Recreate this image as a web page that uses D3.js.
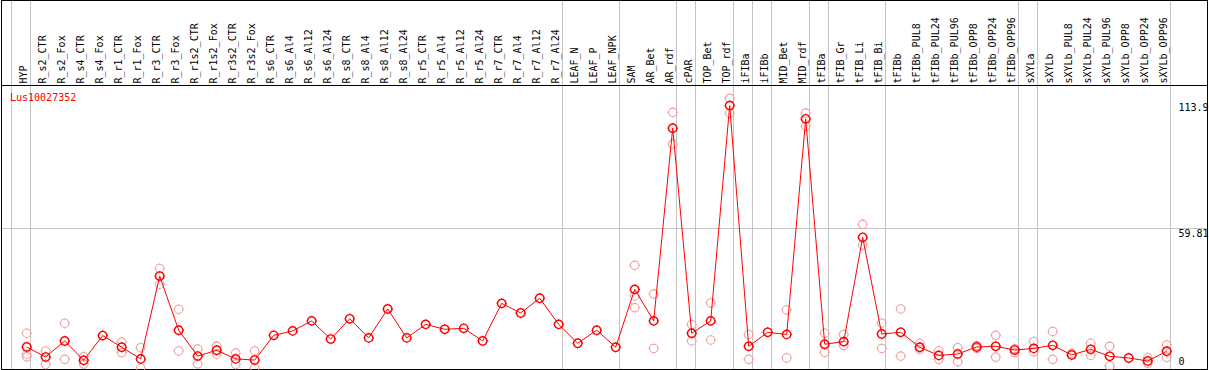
<!DOCTYPE html>
<html>
<head>
<meta charset="utf-8">
<script src="https://cdn.jsdelivr.net/npm/d3@7"></script>
<style>
  body { margin: 0; background: #fff; }
  text { font-family: "DejaVu Sans Mono", monospace; font-size: 10px; }
</style>
</head>
<body>
<div id="chart"></div>
<script>
var geneName = "Lus10027352";

var samples = ["HYP", "R_s2_CTR", "R_s2_Fox", "R_s4_CTR", "R_s4_Fox", "R_r1_CTR", "R_r1_Fox",
    "R_r3_CTR", "R_r3_Fox", "R_r1s2_CTR", "R_r1s2_Fox", "R_r3s2_CTR", "R_r3s2_Fox",
    "R_s6_CTR", "R_s6_Al4", "R_s6_Al12", "R_s6_Al24", "R_s8_CTR", "R_s8_Al4", "R_s8_Al12", "R_s8_Al24",
    "R_r5_CTR", "R_r5_Al4", "R_r5_Al12", "R_r5_Al24", "R_r7_CTR", "R_r7_Al4", "R_r7_Al12", "R_r7_Al24",
    "LEAF_N", "LEAF_P", "LEAF_NPK", "SAM", "AR_Bet", "AR_rdf", "cPAR", "TOP_Bet", "TOP_rdf",
    "iFIBa", "iFIBb", "MID_Bet", "MID_rdf", "tFIBa", "tFIB_Gr", "tFIB_Li", "tFIB_Bi", "tFIBb",
    "tFIBb_PUL8", "tFIBb_PUL24", "tFIBb_PUL96", "tFIBb_OPP8", "tFIBb_OPP24", "tFIBb_OPP96",
    "sXYLa", "sXYLb", "sXYLb_PUL8", "sXYLb_PUL24", "sXYLb_PUL96", "sXYLb_OPP8", "sXYLb_OPP24", "sXYLb_OPP96"];

// mean expression per sample
var means = [9.0, 4.7, 11.6, 3.3, 13.9, 8.9, 3.9, 39.4, 16.2, 5.1, 7.6, 3.9, 3.4,
    14.0, 15.9, 20.2, 12.4, 21.1, 12.9, 25.3, 12.9, 18.7, 16.6, 17.0, 11.6, 27.7, 23.6, 29.9, 18.7,
    10.6, 16.2, 8.9, 33.7, 20.2, 102.8, 14.9, 20.2, 112.5, 9.3, 15.3, 14.4, 106.8, 10.2, 11.3, 56.0, 14.6,
    15.3, 8.9, 5.4, 6.0, 9.0, 9.3, 7.7, 8.4, 9.7, 5.6, 8.0, 5.0, 4.3, 3.0, 7.2];

// individual replicates (where visible)
var replicates = [[14.9, 5.9, 4.8], [7.3, 1.6], [19.2, 3.7], [4.8, 1.7], [], [11.1, 6.6], [8.7, 0],
    [42.7, 35.9], [25.2, 7.3], [8.1, 1.8], [9.4, 5.9], [6.4, 1.6], [7.3, 0],
    [], [], [], [], [], [], [], [], [], [], [], [], [], [], [], [],
    [], [], [], [44.0, 30.9, 25.9], [31.7, 8.4], [109.6, 96.0], [18.7, 11.6], [27.9, 12.0], [115.6, 109.2],
    [14.4, 3.7], [], [24.9, 4.3], [109.3, 103.6], [14.9, 6.7], [14.4, 9.6], [61.6, 52.7], [19.2, 8.4],
    [25.3, 5.1], [10.6, 8.0], [7.4, 3.7], [8.7, 2.7], [9.6, 8.4], [14.0, 4.7], [8.3, 6.6],
    [11.4, 6.9], [15.7, 3.7], [6.3], [10.6, 5.4], [9.3, 0.9], [], [4.4, 2.0], [9.9, 4.6]];

// group separators: drawn after these sample indexes
var separators = [-1, 0, 28, 31, 34, 35, 37, 38, 39, 41, 42, 45, 52, 53, 60];

var yTicks = [0, 59.81, 113.9];
var yGrid = [59.81];

var width = 1209, height = 370;

var svg = d3.select("#chart").append("svg")
    .attr("width", width)
    .attr("height", height);

var x = d3.scaleLinear()
    .domain([0, samples.length - 1])
    .range([26.7, 1166.7]);

var y = d3.scaleLinear()
    .domain([0, 113.9])
    .range([368, 102.3]);

// grid
svg.selectAll(".hgrid").data(yGrid).enter().append("line")
    .attr("x1", 1).attr("x2", 1207)
    .attr("y1", (d) => Math.floor(y(d)) + 0.5)
    .attr("y2", (d) => Math.floor(y(d)) + 0.5)
    .attr("stroke", "#c4c4c4");

svg.selectAll(".vsep").data(separators).enter().append("line")
    .attr("x1", (d) => Math.floor(x(d) + 4) + 0.5)
    .attr("x2", (d) => Math.floor(x(d) + 4) + 0.5)
    .attr("y1", 0).attr("y2", 370)
    .attr("stroke", "#c4c4c4");

// frame
svg.append("rect")
    .attr("x", 1.5).attr("y", 0.5)
    .attr("width", 1206).attr("height", 369)
    .attr("fill", "none")
    .attr("stroke", "#000");
svg.append("line")
    .attr("x1", 1).attr("x2", 1208)
    .attr("y1", 85.5).attr("y2", 85.5)
    .attr("stroke", "#000");

// sample labels
svg.selectAll(".lab").data(samples).enter().append("text")
    .attr("transform", (d, i) => "translate(" + (x(i) + 0.5) + ",83.5) rotate(-90)")
    .attr("fill", "#000")
    .text((d) => d);

// right axis labels
svg.selectAll(".ylab").data(yTicks).enter().append("text")
    .attr("x", 1178.5)
    .attr("y", (d) => d === 0 ? y(d) - 3.3 : y(d) + 8.3)
    .attr("fill", "#000")
    .text((d) => d);

svg.append("text")
    .attr("x", 10).attr("y", 100.5)
    .attr("fill", "#ff0000")
    .text(geneName);

// marker: circle with tiny ticks
function marker(r) {
    var t = r + 1;
    return "M" + r + ",0A" + r + "," + r + " 0 1,1 " + (-r) + ",0A" + r + "," + r + " 0 1,1 " + r + ",0" +
        "M0," + (-r) + "V" + (-t) + "M0," + r + "V" + t + "M" + (-r) + ",0H" + (-t) + "M" + r + ",0H" + t;
}

var repPts = [];
replicates.forEach(function (reps, i) {
    reps.forEach(function (v) { repPts.push({ i: i, v: v }); });
});

svg.selectAll(".rep").data(repPts).enter().append("path")
    .attr("transform", (d) => "translate(" + x(d.i) + "," + y(d.v) + ")")
    .attr("d", marker(4.2))
    .attr("fill", "none")
    .attr("stroke", "#f0a0a0")
    .attr("stroke-width", 1.1)
    .attr("stroke-linecap", "butt");

svg.append("path")
    .datum(means)
    .attr("fill", "none")
    .attr("stroke", "#ff0000")
    .attr("stroke-width", 1)
    .attr("d", d3.line().x((d, i) => x(i)).y((d) => y(d)));

svg.selectAll(".mean").data(means).enter().append("path")
    .attr("transform", (d, i) => "translate(" + x(i) + "," + y(d) + ")")
    .attr("d", marker(4.2))
    .attr("fill", "none")
    .attr("stroke", "#ff0000")
    .attr("stroke-width", 1.4)
    .attr("stroke-linecap", "butt");
</script>
</body>
</html>
